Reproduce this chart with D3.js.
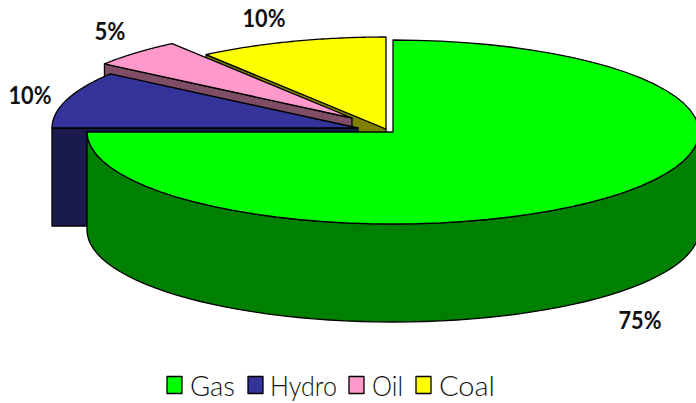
<!DOCTYPE html>
<html>
<head>
<meta charset="utf-8">
<script src="https://cdn.jsdelivr.net/npm/d3@7"></script>
<style>
html,body{margin:0;padding:0;background:#fff;}
svg{display:block;}
text{font-family:Lato,"Open Sans","DejaVu Sans",sans-serif;fill:#111;}
</style>
</head>
<body>
<svg id="chart" width="696" height="403"></svg>
<script>
// Electricity generation mix, drawn as an exploded 3D pie.
const categories = ["Gas", "Hydro", "Oil", "Coal"];
const shares = [75, 10, 5, 10];
const shareLabels = ["75%", "10%", "5%", "10%"];
const topColors = ["#00ff00", "#333399", "#ff99cc", "#ffff00"];
const sideColors = ["#008000", "#1a1a4d", "#804d66", "#808000"];

// Where each exploded wedge sits on the page, and its label.
const centers = [[393, 132], [358, 128], [352, 118], [386, 129]];
const labelAt = [[640, 329], [30, 104], [110, 40], [264, 27]];
const labelWidth = [43, 43, 31, 43];
const legendSwatchX = [167, 248, 349, 416];
const legendTextX = [190, 270, 372, 439];
const legendTextWidth = [45, 67, 31, 56];

const rx = 306, ry = 92, depth = 98;
const svg = d3.select("#chart");

const wedges = d3.pie().sort(null).value(d => d)(shares);

const rimPoint = (c, a, dy = 0) => [c[0] + rx * Math.sin(a), c[1] - ry * Math.cos(a) + dy];
const arcAngles = (a0, a1) => d3.range(0, 61).map(i => a0 + (a1 - a0) * i / 60);
const outline = d3.line();

const stroke = sel => sel.attr("stroke", "#000").attr("stroke-width", 1.3).attr("stroke-linejoin", "round");

// Back-to-front order: the wedges nearest the top of the page go first.
[3, 2, 1, 0].forEach(i => {
  const w = wedges[i], c = centers[i];
  const g = svg.append("g");

  // Radial wall on the wedge's leading edge, facing down and left.
  if (i !== 0) {
    const p = rimPoint(c, w.startAngle);
    g.append("path")
      .attr("d", outline([p, c, [c[0], c[1] + depth], [p[0], p[1] + depth]]) + "Z")
      .attr("fill", sideColors[i]).call(stroke);
  }

  // Curved wall for the part of the rim that faces the viewer.
  const frontStart = Math.max(w.startAngle, Math.PI / 2);
  const frontEnd = Math.min(w.endAngle, 3 * Math.PI / 2);
  if (frontEnd > frontStart) {
    const angles = arcAngles(frontStart, frontEnd);
    const pts = angles.map(a => rimPoint(c, a)).concat(angles.slice().reverse().map(a => rimPoint(c, a, depth)));
    g.append("path").attr("d", outline(pts) + "Z").attr("fill", sideColors[i]).call(stroke);
  }

  // Top face.
  const rim = arcAngles(w.startAngle, w.endAngle).map(a => rimPoint(c, a));
  g.append("path").attr("d", outline([c, ...rim]) + "Z").attr("fill", topColors[i]).call(stroke);
});

// Value labels.
svg.selectAll("text.value").data(shareLabels).join("text")
  .attr("class", "value")
  .attr("x", (d, i) => labelAt[i][0] - labelWidth[i] / 2)
  .attr("y", (d, i) => labelAt[i][1])
  .attr("font-size", 24)
  .attr("font-weight", 700)
  .attr("textLength", (d, i) => labelWidth[i])
  .attr("lengthAdjust", "spacingAndGlyphs")
  .text(d => d);

// Legend row.
svg.selectAll("rect.key").data(categories).join("rect")
  .attr("class", "key")
  .attr("x", (d, i) => legendSwatchX[i])
  .attr("y", 376.5)
  .attr("width", 15)
  .attr("height", 17)
  .attr("fill", (d, i) => topColors[i])
  .call(stroke);

svg.selectAll("text.key").data(categories).join("text")
  .attr("class", "key")
  .attr("x", (d, i) => legendTextX[i])
  .attr("y", 396)
  .attr("font-size", 28)
  .attr("font-weight", 300)
  .attr("textLength", (d, i) => legendTextWidth[i])
  .attr("lengthAdjust", "spacingAndGlyphs")
  .text(d => d);
</script>
</body>
</html>
